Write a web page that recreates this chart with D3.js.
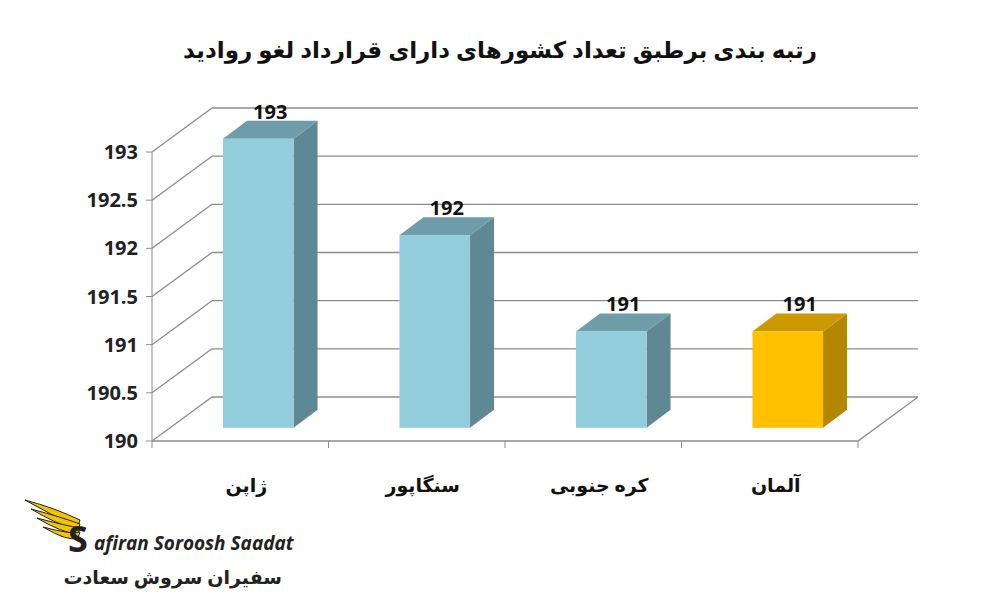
<!DOCTYPE html><html><head><meta charset="utf-8"><script src="https://cdn.jsdelivr.net/npm/d3@7"></script>
<style>body{margin:0;background:#fff}text{font-family:"Open Sans","DejaVu Sans",sans-serif}</style></head><body>
<svg id="c" width="1000" height="600"></svg>
<script>
const title = "رتبه بندی برطبق تعداد کشورهای دارای قرارداد لغو روادید";
const categories = ["ژاپن","سنگاپور","کره جنوبی","آلمان"];
const values = [193,192,191,191];
const valueLabels = ["193","192","191","191"];
const yTicks = [190,190.5,191,191.5,192,192.5,193];
const highlight = [false,false,false,true];

const svg = d3.select("#c");
const x0 = 152, x1 = 858, dx = 60, dy = -44;
const y = d3.scaleLinear().domain([190,193]).range([441,152]);
const x = d3.scaleBand().domain(categories).range([x0,x1]).paddingInner(0).paddingOuter(0);
const grid = "#8c8c8c";
yTicks.forEach(t=>{
  svg.append("line").attr("x1",x0).attr("y1",y(t)).attr("x2",x0+dx).attr("y2",y(t)+dy).attr("stroke",grid).attr("stroke-width",1.3);
  svg.append("line").attr("x1",x0+dx).attr("y1",y(t)+dy).attr("x2",x1+dx).attr("y2",y(t)+dy).attr("stroke",grid).attr("stroke-width",1.3);
});
svg.append("path").attr("d",`M${x0},${y(190)}L${x1},${y(190)}L${x1+dx},${y(190)+dy}`).attr("fill","none").attr("stroke",grid).attr("stroke-width",1.3);
svg.append("line").attr("x1",x0).attr("y1",y(190)).attr("x2",x0).attr("y2",y(193)).attr("stroke",grid);
yTicks.forEach(t=>{
  svg.append("line").attr("x1",x0-6).attr("x2",x0).attr("y1",y(t)).attr("y2",y(t)).attr("stroke",grid);
  svg.append("text").attr("x",x0-14).attr("y",y(t)+7).attr("text-anchor","end").attr("font-size",20).attr("font-weight","bold").attr("fill","#222").text(t);
});
x.domain().forEach((c,i)=>{ if(i>0) svg.append("line").attr("x1",x(c)).attr("x2",x(c)).attr("y1",y(190)).attr("y2",y(190)+7).attr("stroke",grid); });
svg.append("line").attr("x1",x0).attr("x2",x0).attr("y1",y(190)).attr("y2",y(190)+7).attr("stroke",grid);
svg.append("line").attr("x1",x1).attr("x2",x1).attr("y1",y(190)).attr("y2",y(190)+7).attr("stroke",grid);
const f = 0.3, bw = x.bandwidth()*0.4, ddx = 24, ddy = -18;
categories.forEach((c,i)=>{
  const cx = x(c)+x.bandwidth()/2 + f*dx;
  const l = cx-bw/2, r = cx+bw/2, top = y(values[i])+f*dy, bot = y(190)+f*dy;
  const col = highlight[i] ? ["#FFC000","#B38700","#CC9A00"] : ["#92CDDC","#5E8894","#6E9CA9"];
  svg.append("path").attr("d",`M${r},${bot}L${r+ddx},${bot+ddy}L${r+ddx},${top+ddy}L${r},${top}Z`).attr("fill",col[1]);
  svg.append("path").attr("d",`M${l},${top}L${l+ddx},${top+ddy}L${r+ddx},${top+ddy}L${r},${top}Z`).attr("fill",col[2]);
  svg.append("rect").attr("x",l).attr("y",top).attr("width",bw).attr("height",bot-top).attr("fill",col[0]);
  svg.append("text").attr("x",cx+ddx/2).attr("y",top+ddy-2).attr("text-anchor","middle").attr("font-size",20).attr("font-weight","bold").attr("fill","#111").text(valueLabels[i]);
  svg.append("text").attr("x",x(c)+x.bandwidth()/2+6).attr("y",492).attr("text-anchor","middle").attr("font-size",19).attr("font-weight","bold").attr("fill","#111").attr("direction","rtl").text(c);
});
svg.append("text").attr("x",500).attr("y",58).attr("text-anchor","middle").attr("font-size",23).attr("font-weight","bold").attr("fill","#111").attr("direction","rtl").text(title);
const g = svg.append("g");
[[0,0],[6,9],[12,18],[18,27]].forEach(([a,b],k)=>{
  g.append("path").attr("d",`M${25+a},${500+b} Q${55+a},${508+b} ${80},${520+k*4} L${78},${526+k*4} Q${50+a},${515+b} ${25+a},${500+b}Z`).attr("fill","#F2C500").attr("stroke","#222").attr("stroke-width",1);
});
g.append("text").attr("x",68).attr("y",552).attr("font-size",36).attr("font-weight","bold").attr("fill","#222").text("S");
g.append("text").attr("x",94).attr("y",550).attr("font-size",19).attr("font-weight","bold").attr("font-style","italic").attr("fill","#222").text("afiran Soroosh Saadat");
g.append("text").attr("x",282).attr("y",584).attr("text-anchor","start").attr("font-size",19).attr("font-weight","bold").attr("fill","#222").attr("direction","rtl").text("سفیران سروش سعادت");
</script></body></html>
